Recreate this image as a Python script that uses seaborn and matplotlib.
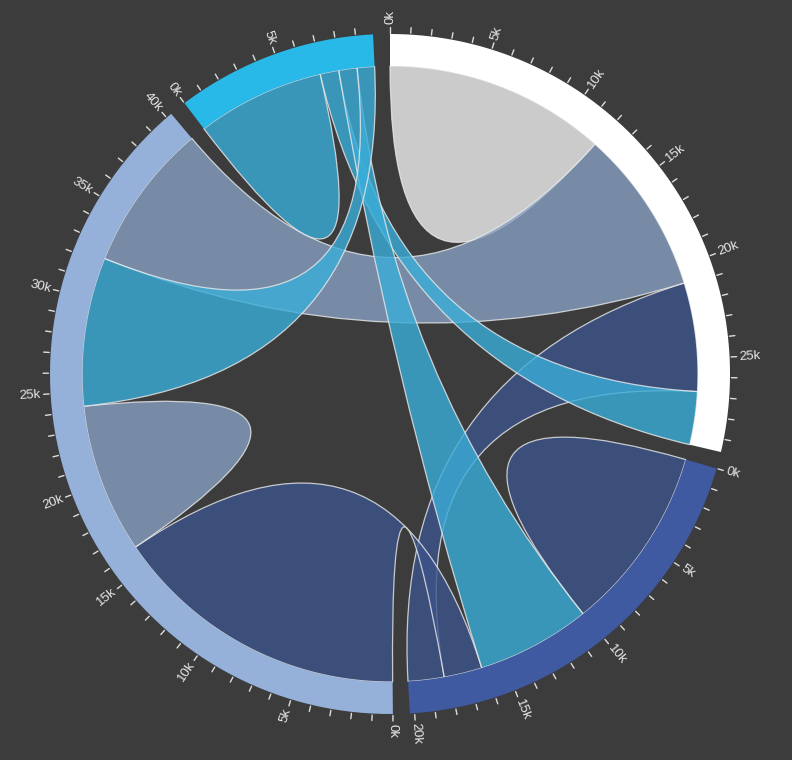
import numpy as np
import matplotlib
matplotlib.use("Agg")
import matplotlib.pyplot as plt
from matplotlib.path import Path
from matplotlib.patches import PathPatch, Polygon
import seaborn as sns

# flows between the four groups (row = group, column = other group)
white_row = [11975, 5871, 8916, 2868]
navy_row = [1951, 10048, 2060, 6171]
light_row = [8010, 16145, 8090, 8045]
cyan_row = [1013, 990, 940, 6907]
group_hex = ["#FFFFFF", "#3F5AA0", "#95B1D9", "#29B9E8"]
# how the ribbons look over the dark background
chord_hex = ["#CCCCCC", "#3D4F7B", "#788CA6", "#3A96B9"]

matrix = np.array([white_row, navy_row, light_row, cyan_row], dtype=float)
colors = sns.color_palette(group_hex)

bg = "#3C3C3C"
sns.set_style("dark", {"axes.facecolor": bg, "figure.facecolor": bg})
plt.rcParams["font.family"] = ["Liberation Sans", "DejaVu Sans"]

# ribbon fill so that alpha-blending over bg gives chord_hex
alpha = 0.8
bg_rgb = np.array(matplotlib.colors.to_rgb(bg))
chord_fill = []
for h in chord_hex:
    c = (np.array(matplotlib.colors.to_rgb(h)) - (1 - alpha) * bg_rgb) / alpha
    chord_fill.append((*np.clip(c, 0, 1), alpha))

cx, cy = 390, 374
r_in, r_out = 308, 340
pad = 0.05
n = len(matrix)
k = (2 * np.pi - pad * n) / matrix.sum()


def pt(r, a):
    return (cx + r * np.sin(a), cy - r * np.cos(a))


def arc_pts(r, a0, a1, num=80):
    return [pt(r, a) for a in np.linspace(a0, a1, num)]


# chord layout, subgroups sorted descending inside each group
groups = []
sub = {}
x = 0.0
for i in range(n):
    x0 = x
    for j in sorted(range(n), key=lambda j: -matrix[i, j]):
        sub[(i, j)] = (x, x + matrix[i, j] * k)
        x += matrix[i, j] * k
    groups.append((x0, x))
    x += pad


def ribbon(s, t):
    sp = arc_pts(r_in, *s)
    verts = list(sp)
    codes = [Path.MOVETO] + [Path.LINETO] * (len(sp) - 1)
    if s != t:
        tp = arc_pts(r_in, *t)
        verts += [(cx, cy), tp[0]]
        codes += [Path.CURVE3, Path.CURVE3]
        verts += tp[1:]
        codes += [Path.LINETO] * (len(tp) - 1)
    verts += [(cx, cy), sp[0]]
    codes += [Path.CURVE3, Path.CURVE3]
    verts.append(sp[0])
    codes.append(Path.CLOSEPOLY)
    return Path(verts, codes)


fig = plt.figure(figsize=(7.92, 7.60), dpi=100)
ax = fig.add_axes([0, 0, 1, 1])
ax.set_xlim(0, 792)
ax.set_ylim(760, 0)
ax.axis("off")

# chords
for i in range(n):
    for j in range(i, n):
        ci = i if matrix[i, j] < matrix[j, i] else j
        patch = PathPatch(ribbon(sub[(i, j)], sub[(j, i)]), facecolor=chord_fill[ci],
                          edgecolor=(0.92, 0.92, 0.92, 0.8), lw=0.9, zorder=2 + i)
        ax.add_patch(patch)

# outer ring + ticks
for i, (a0, a1) in enumerate(groups):
    ring = arc_pts(r_out, a0, a1) + arc_pts(r_in, a1, a0)
    ax.add_patch(Polygon(ring, closed=True, facecolor=colors[i], edgecolor="none", zorder=10))
    total = matrix[i].sum()
    for v in range(0, int(total), 1000):
        a = a0 + v * k
        p1, p2 = pt(r_out + 1.5, a), pt(r_out + 7, a)
        ax.plot([p1[0], p2[0]], [p1[1], p2[1]], color="#DDDDDD", lw=1, zorder=11)
        if v % 5000 == 0:
            deg = np.degrees(a)
            tx, ty = pt(r_out + 10, a)
            if a < np.pi:
                rot, ha = 90 - deg, "left"
            else:
                rot, ha = 270 - deg, "right"
            ax.text(tx, ty, f"{v // 1000}k", rotation=rot, ha=ha, va="center",
                    rotation_mode="anchor", fontsize=9.5, color="#E8E8E8", zorder=12)

fig.savefig("out.png", dpi=100, facecolor=bg)
